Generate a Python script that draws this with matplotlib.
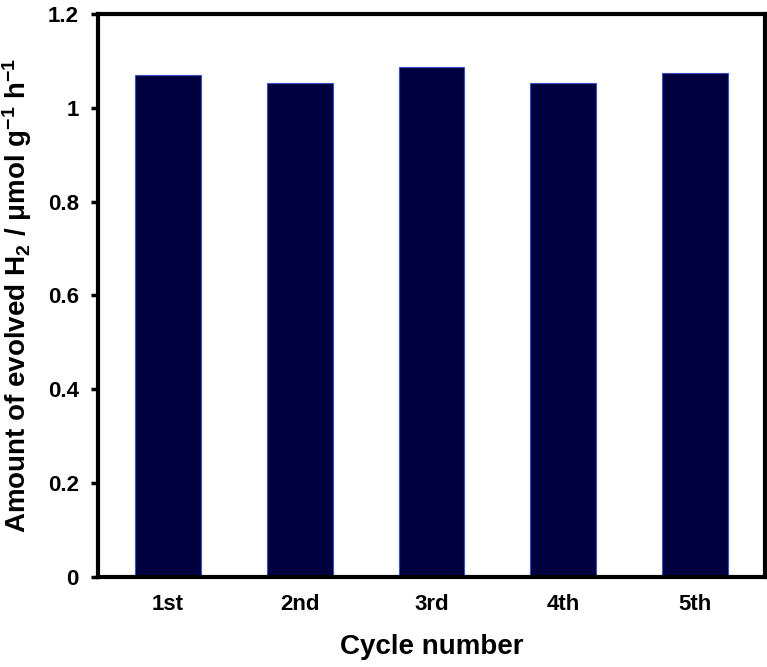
import numpy as np
import matplotlib.pyplot as plt

plt.rcParams['font.family'] = ['Liberation Sans', 'DejaVu Sans']
plt.rcParams['font.weight'] = 'bold'
plt.rcParams['mathtext.default'] = 'regular'

# H2 evolution rate over five reuse cycles
cycles = ["1st", "2nd", "3rd", "4th", "5th"]
h2_rate = [1.070, 1.052, 1.088, 1.052, 1.075]
y_ticks = [0, 0.2, 0.4, 0.6, 0.8, 1.0, 1.2]
y_tick_labels = ["0", "0.2", "0.4", "0.6", "0.8", "1", "1.2"]

fig = plt.figure(figsize=(7.67, 6.67), dpi=100)
ax = fig.add_axes([0.128, 0.135, 0.869, 0.844])

x = np.arange(len(cycles))
ax.bar(x, h2_rate, width=0.5, color="#01013f", edgecolor="#3a4cc8", linewidth=0.8, zorder=2)

ax.set_xlim(-0.53, 4.53)
ax.set_ylim(0, 1.2)
ax.set_xticks(x)
ax.set_xticklabels(cycles, fontsize=16, fontweight="bold")
ax.set_yticks(y_ticks)
ax.set_yticklabels(y_tick_labels, fontsize=16, fontweight="bold")
ax.tick_params(axis="x", length=0, pad=12)
ax.tick_params(axis="y", direction="out", length=5, width=2.5, pad=9)

for side in ["left", "bottom", "top", "right"]:
    ax.spines[side].set_linewidth(3)
    ax.spines[side].set_color("black")

ax.set_xlabel("Cycle number", fontsize=20, fontweight="bold", labelpad=14)
ax.set_ylabel("Amount of evolved H$_2$ / μmol g$^{-1}$ h$^{-1}$", fontsize=20, fontweight="bold", labelpad=10)

plt.savefig("out.png", dpi=100)
